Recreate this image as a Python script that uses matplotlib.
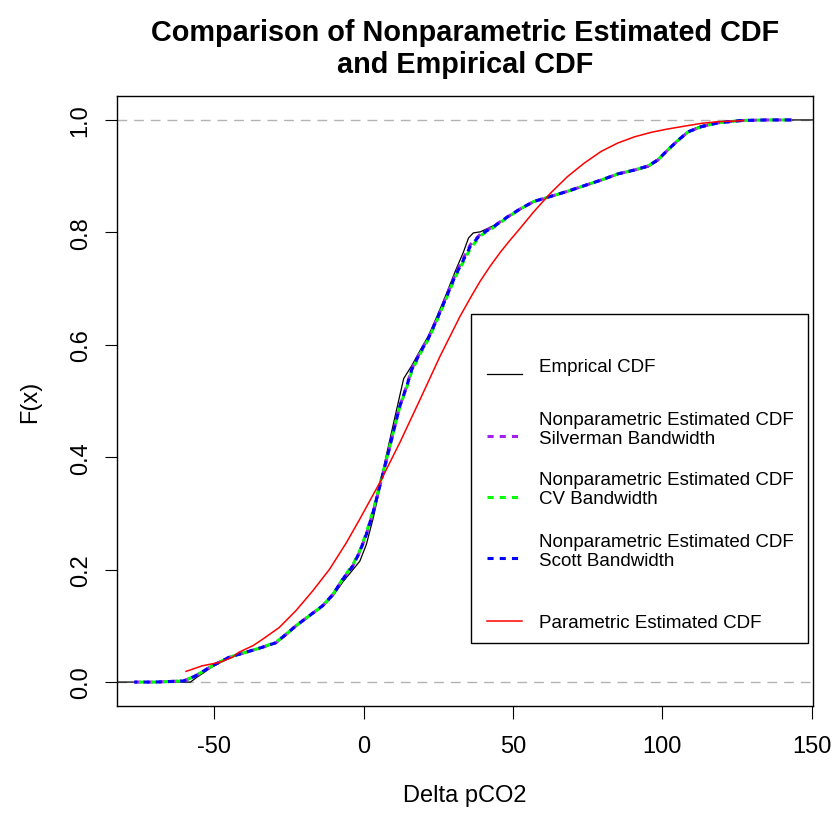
import matplotlib
matplotlib.use("Agg")
import matplotlib.pyplot as plt
from matplotlib.lines import Line2D
from matplotlib.patches import Rectangle

plt.rcParams['font.family'] = ['Liberation Sans', 'DejaVu Sans']

# kernel (nonparametric) CDF estimates
kde_x = [-76.8, -70, -65, -60.3, -56.3, -50.7, -45.1, -39.5, -33.9, -29.4, -26.0,
         -22.7, -18.2, -13.7, -10.3, -7.0, -3.6, -1.3, 0.9, 3.1, 5.4, 7.1, 8.8,
         10.4, 12.1, 14.4, 16.1, 18.9, 21.7, 24.5, 27.8, 30.6, 33.4, 35.7, 39.1,
         43.5, 48.0, 52.5, 57.0, 62.6, 68.2, 73.8, 79.5, 85.1, 90.7, 95.2, 98.5,
         101.9, 105.3, 108.7, 113.1, 118.8, 126.6, 135.0, 143.4]
silverman_y = [0.000, 0.000, 0.001, 0.002, 0.011, 0.029, 0.044, 0.053, 0.062, 0.070, 0.085,
               0.100, 0.118, 0.136, 0.156, 0.183, 0.207, 0.232, 0.263, 0.301, 0.349, 0.384, 0.420,
               0.455, 0.491, 0.527, 0.557, 0.587, 0.613, 0.646, 0.688, 0.724, 0.754, 0.778, 0.797,
               0.811, 0.827, 0.842, 0.855, 0.864, 0.873, 0.883, 0.893, 0.904, 0.911, 0.918, 0.929,
               0.947, 0.964, 0.979, 0.988, 0.995, 0.999, 1.000, 1.000]
cv_y = [0.000, 0.000, 0.001, 0.002, 0.011, 0.029, 0.044, 0.053, 0.062, 0.071, 0.085,
        0.100, 0.118, 0.136, 0.156, 0.184, 0.209, 0.234, 0.266, 0.304, 0.352, 0.386, 0.421,
        0.455, 0.490, 0.524, 0.553, 0.584, 0.610, 0.643, 0.684, 0.720, 0.748, 0.771, 0.794,
        0.809, 0.826, 0.842, 0.855, 0.864, 0.873, 0.883, 0.893, 0.904, 0.911, 0.918, 0.929,
        0.947, 0.964, 0.979, 0.988, 0.995, 0.999, 1.000, 1.000]
scott_y = [0.000, 0.000, 0.001, 0.002, 0.011, 0.029, 0.044, 0.053, 0.062, 0.070, 0.085,
           0.100, 0.118, 0.136, 0.156, 0.183, 0.207, 0.232, 0.263, 0.301, 0.349, 0.384, 0.420,
           0.455, 0.491, 0.526, 0.556, 0.586, 0.612, 0.645, 0.686, 0.722, 0.751, 0.775, 0.796,
           0.810, 0.827, 0.842, 0.855, 0.864, 0.873, 0.883, 0.893, 0.904, 0.911, 0.918, 0.929,
           0.947, 0.964, 0.979, 0.988, 0.995, 0.999, 1.000, 1.000]

# empirical CDF
ecdf_x = [-95, -58.0, -56.0, -50.7, -45.1, -39.5, -33.9, -29.4, -26.0, -22.7, -18.2,
          -13.7, -10.3, -7.0, -3.6, -1.3, 0.9, 3.1, 5.4, 7.0, 8.8, 10.4, 12.1, 13.4,
          15.4, 16.1, 18.9, 21.7, 24.5, 27.8, 30.6, 33.4, 35.1, 36.7, 39.1, 43.5,
          48.0, 52.5, 57.0, 62.6, 68.2, 73.8, 79.5, 85.1, 90.7, 95.2, 98.5, 101.9,
          105.3, 108.7, 113.1, 118.8, 126.6, 160]
ecdf_y = [0.000, 0.000, 0.008, 0.027, 0.043, 0.052, 0.061, 0.069, 0.083, 0.099, 0.117,
          0.135, 0.153, 0.178, 0.200, 0.215, 0.245, 0.290, 0.345, 0.390, 0.432, 0.470, 0.510, 0.540,
          0.557, 0.563, 0.590, 0.616, 0.650, 0.692, 0.730, 0.765, 0.790, 0.799, 0.801, 0.812,
          0.826, 0.841, 0.854, 0.863, 0.872, 0.882, 0.892, 0.903, 0.910, 0.916, 0.927, 0.946,
          0.963, 0.980, 0.990, 0.996, 1.000, 1.000]

# parametric (normal) CDF
param_x = [-59.5, -54.0, -48.3, -44.0, -41.8, -37.0, -33.9, -28.3, -22.7, -17.1, -11.4, -5.8,
           -1.3, 5.4, 12.1, 18.9, 25.6, 32.3, 36.0, 39.1, 42.5, 45.8, 49.0, 52.5, 57.0, 62.6, 68.2,
           73.8, 79.5, 85.1, 90.7, 96.3, 101.9, 107.5, 113.1, 118.8, 124.3, 127.2]
param_y = [0.019, 0.029, 0.035, 0.044, 0.053, 0.065, 0.076, 0.097, 0.127, 0.162, 0.201, 0.248,
           0.290, 0.355, 0.426, 0.503, 0.580, 0.651, 0.686, 0.714, 0.741, 0.765, 0.786, 0.808,
           0.837, 0.870, 0.899,
           0.923, 0.944, 0.959, 0.970, 0.978, 0.984, 0.989, 0.994, 0.997, 0.998, 0.999]

x_ticks = [-50, 0, 50, 100, 150]
y_ticks = [0.0, 0.2, 0.4, 0.6, 0.8, 1.0]

fig = plt.figure(figsize=(8.32, 8.2), dpi=100)
ax = fig.add_axes([0.1403, 0.1382, 0.8363, 0.7431])

ax.axhline(0, color='#b3b3b3', lw=1.0, ls=(0, (7, 5)), zorder=1)
ax.axhline(1, color='#b3b3b3', lw=1.0, ls=(0, (7, 5)), zorder=1)

ax.plot(ecdf_x, ecdf_y, color='black', lw=0.9, zorder=2)
ax.plot(kde_x, silverman_y, color='#a020f0', lw=2.2, ls=(0, (2, 2)), zorder=3)
ax.plot(kde_x, cv_y, color='#00ff00', lw=2.2, ls=(2.5, (2, 2)), zorder=4)
ax.plot(kde_x, scott_y, color='#0000ff', lw=2.2, ls=(1, (2, 2)), zorder=5)
ax.plot(param_x, param_y, color='#ff0000', lw=1.1, zorder=6)

ax.set_xlim(-82.7, 150.3)
ax.set_ylim(-0.042, 1.042)
ax.set_xticks(x_ticks)
ax.set_xticklabels([str(t) for t in x_ticks])
ax.set_yticks(y_ticks)
ax.set_yticklabels(['%.1f' % t for t in y_ticks], rotation=90, va='center')
ax.tick_params(axis='both', length=9, width=0.8, labelsize=17)
ax.tick_params(axis='x', pad=12)
ax.tick_params(axis='y', pad=9)
for sp in ax.spines.values():
    sp.set_linewidth(1.0)

ax.set_xlabel('Delta pCO2', fontsize=17, va='center')
ax.xaxis.set_label_coords(0.5, -0.1465)
ax.set_ylabel('F(x)', fontsize=17, va='center')
ax.yaxis.set_label_coords(-0.1246, 0.5)

ax.set_title('Comparison of Nonparametric Estimated CDF\nand Empirical CDF',
             fontsize=20.8, fontweight='bold', y=1.066, va='center', linespacing=1.2)

# legend drawn by hand, R style
ax.add_patch(Rectangle((0.509, 0.1029), 0.4845, 0.5399, transform=ax.transAxes,
                       fill=False, edgecolor='black', lw=1.0, zorder=7))
legend_rows = [
    ('Emprical CDF', 'black', '-', 0.9, 0.5443, 0.5574),
    ('Nonparametric Estimated CDF\nSilverman Bandwidth', '#a020f0', (0, (2, 2)), 2.2, 0.4431, 0.4540),
    ('Nonparametric Estimated CDF\nCV Bandwidth', '#00ff00', (0, (2, 2)), 2.2, 0.3430, 0.3550),
    ('Nonparametric Estimated CDF\nScott Bandwidth', '#0000ff', (0, (2, 2)), 2.2, 0.2419, 0.2544),
    ('Parametric Estimated CDF', '#ff0000', '-', 1.1, 0.1395, 0.1369),
]
for label, col, style, lw, ly, ty in legend_rows:
    ax.add_line(Line2D([0.532, 0.582], [ly, ly], transform=ax.transAxes,
                       color=col, ls=style, lw=lw, zorder=8))
    ax.text(0.607, ty, label, transform=ax.transAxes, fontsize=13.5,
            va='center', ha='left', linespacing=1.15, zorder=8)

fig.savefig('out.png', dpi=100)
